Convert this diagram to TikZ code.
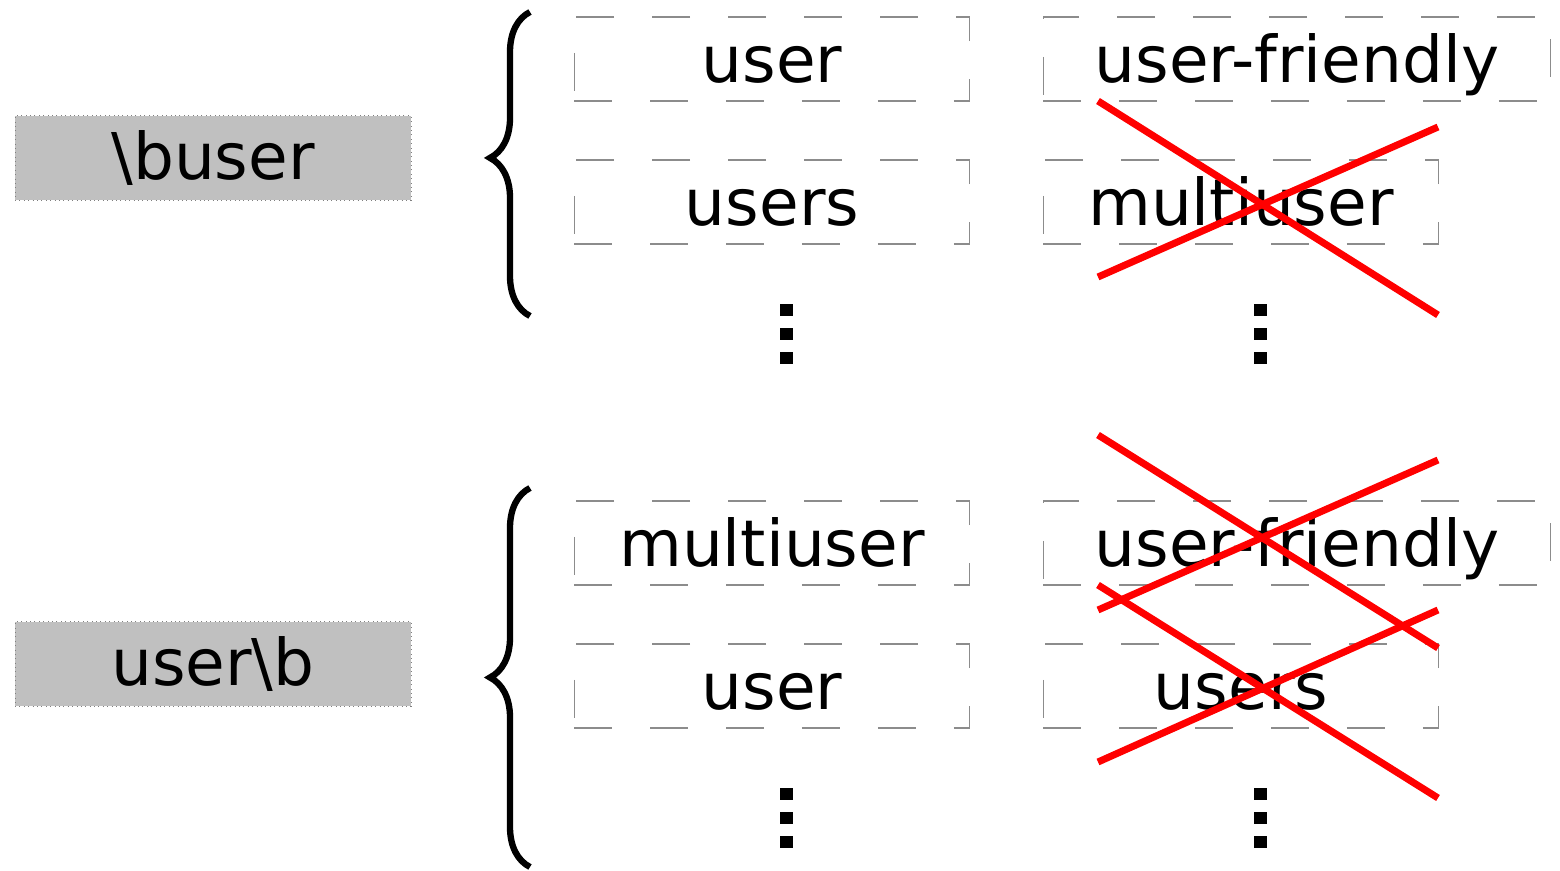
\documentclass[tikz,border=0pt]{standalone}
\usepackage{fontspec}
\setmainfont{DejaVu Sans}
\usepackage{tikz}
\usetikzlibrary{decorations.pathreplacing}
\definecolor{tagfill}{RGB}{192,192,192}
\definecolor{xred}{RGB}{255,0,0}
% red cross over a rejected match: x1, y1 (top-left), y1' (bottom-left), x2, y2 (top-right), y2' (bottom-right)
\newcommand\strikeout[6]{\draw[xred, line width=4pt] (#1,#2) -- (#4,#6);\draw[xred, line width=4pt] (#1,#3) -- (#4,#5);}
\newcommand\vellipsis[3]{\foreach \dy in {0,24,48} {\fill (#1-6.5,#2+\dy-6) rectangle ++(13,12);}\node[inner sep=0] (#3) at (#1,#2+24) {};}
\tikzset{
  tagbox/.style={fill=tagfill, draw=gray, dotted, line width=0.5pt, minimum width=7.92cm, minimum height=1.7cm, inner sep=0pt, text height=0.88cm, text depth=0cm, font=\fontsize{36.7}{44}\selectfont},
  wordbox/.style={draw=gray!90, dash pattern=on 0.76cm off 0.76cm, line width=0.6pt, minimum height=1.68cm, inner sep=0pt, text height=0.96cm, text depth=0cm, font=\fontsize{36.7}{44}\selectfont},
  narrow/.style={wordbox, minimum width=7.92cm},
  wide/.style={wordbox, minimum width=10.16cm},
  brace/.style={decorate, decoration={brace, amplitude=0.8cm, aspect=#1}, line width=3.6pt},
}

\begin{document}
\begin{tikzpicture}[x=0.02cm, y=-0.02cm]
	\useasboundingbox (0,0) rectangle (1560,871);

	% leading boundary
	\node[tagbox] (bword) at (213,158) {\textbackslash buser};
	\coordinate (bword-lo) at (530,316);
	\coordinate (bword-hi) at (530,12);
	\draw[brace=0.52] (bword-lo) -- (bword-hi);
	\node[narrow] (bw-user) at (772,59) {user};
	\node[narrow] (bw-users) at (772,202) {users};
	\node[wide] (bw-friendly) at (1297,59) {user-friendly};
	\node[narrow] (bw-multi) at (1241,202) {multiuser};
	\vellipsis{786}{310}{bw-more}
	\vellipsis{1260}{310}{bw-none}
	\strikeout{1098}{101}{277}{1438}{127}{315}

	% trailing boundary
	\node[tagbox] (wordb) at (213,664) {user\textbackslash b};
	\coordinate (wordb-lo) at (530,867);
	\coordinate (wordb-hi) at (530,488);
	\draw[brace=0.5] (wordb-lo) -- (wordb-hi);
	\node[narrow] (wb-multi) at (772,543) {multiuser};
	\node[narrow] (wb-user) at (772,686) {user};
	\node[wide] (wb-friendly) at (1297,543) {user-friendly};
	\node[narrow] (wb-users) at (1241,686) {users};
	\vellipsis{786}{794}{wb-more}
	\vellipsis{1260}{794}{wb-none}
	\strikeout{1098}{435}{610}{1438}{460}{648}
	\strikeout{1098}{585}{762}{1438}{610}{798}
\end{tikzpicture}
\end{document}
